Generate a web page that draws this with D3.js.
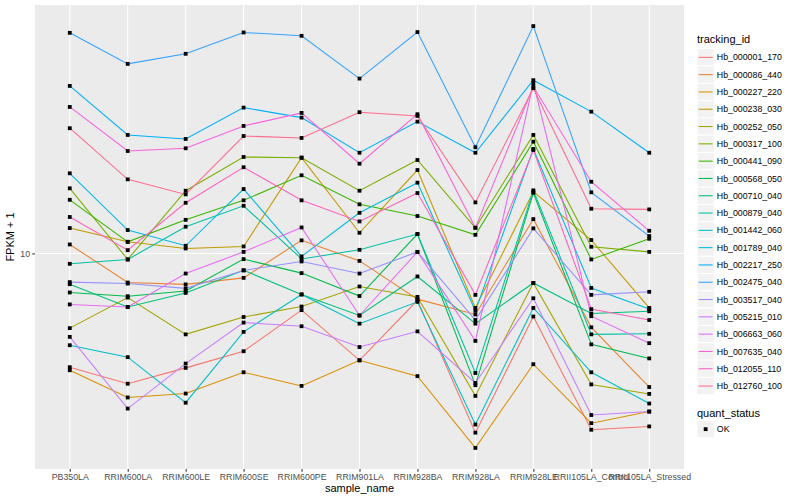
<!DOCTYPE html>
<html><head><meta charset="utf-8">
<script src="https://cdn.jsdelivr.net/npm/d3@7"></script>
<style>
body{margin:0;background:#fff;}
text{font-family:"Liberation Sans",Arial,Helvetica,sans-serif;}
</style></head>
<body><svg id="chart" width="800" height="500"></svg>
<script>
const categories = ["PB350LA","RRIM600LA","RRIM600LE","RRIM600SE","RRIM600PE","RRIM901LA","RRIM928BA","RRIM928LA","RRIM928LE","RRII105LA_Control","RRII105LA_Stressed"];
const seriesNames = ["Hb_000001_170","Hb_000086_440","Hb_000227_220","Hb_000238_030","Hb_000252_050","Hb_000317_100","Hb_000441_090","Hb_000568_050","Hb_000710_040","Hb_000879_040","Hb_001442_060","Hb_001789_040","Hb_002217_250","Hb_002475_040","Hb_003517_040","Hb_005215_010","Hb_006663_060","Hb_007635_040","Hb_012055_110","Hb_012760_100"];
const palette = ["#F8766D","#EA8331","#D89000","#C09B00","#A3A500","#7CAE00","#39B600","#00BB4E","#00BF7D","#00C1A3","#00BFC4","#00BAE0","#00B0F6","#35A2FF","#9590FF","#C77CFF","#E76BF3","#FA62DB","#FF62BC","#FF6C91"];
const yTickValues = [10];
const quantStatus = ["OK"];

const hb_000001_170 = [5.20,4.73,5.18,5.70,7.22,5.41,7.64,3.57,6.96,3.63,3.70];
const hb_000086_440 = [10.53,8.46,8.37,8.69,10.78,9.58,7.69,7.04,12.18,6.54,4.64];
const hb_000227_220 = [5.11,4.37,4.47,5.05,4.67,5.41,4.94,3.27,5.29,3.77,4.03];
const hb_000238_030 = [11.57,10.69,10.29,10.41,17.34,11.26,16.15,7.31,14.26,10.80,7.31];
const hb_000252_050 = [6.51,7.76,6.28,6.94,7.37,8.27,7.79,4.41,8.44,4.71,4.46];
const hb_000317_100 = [14.54,9.66,14.34,17.41,17.34,14.34,17.11,11.59,19.76,10.39,10.09];
const hb_000441_090 = [13.61,10.69,12.13,13.57,15.67,13.26,12.40,11.13,19.01,9.66,10.88];
const hb_000568_050 = [7.99,7.82,8.06,9.68,8.93,7.83,11.18,4.69,14.17,5.93,5.47];
const hb_000710_040 = [8.38,7.35,7.97,9.08,7.90,7.00,8.76,6.68,8.44,7.08,7.17];
const hb_000879_040 = [9.42,9.66,11.66,13.15,9.69,10.21,11.18,5.03,14.37,6.28,6.30];
const hb_001442_060 = [5.90,5.51,4.24,6.37,7.90,6.68,7.57,3.74,7.31,5.05,4.22];
const hb_001789_040 = [15.85,11.44,10.45,14.48,9.83,12.63,15.02,7.19,18.23,8.20,7.27];
const hb_002217_250 = [26.19,19.76,19.31,23.12,21.83,17.84,21.33,17.84,27.07,22.59,17.84];
const hb_002475_040 = [35.54,29.73,31.50,35.61,34.93,27.32,35.69,18.41,36.94,14.21,11.05];
const hb_003517_040 = [8.48,8.41,8.18,9.07,9.55,8.91,10.09,6.82,11.55,7.88,8.02];
const hb_005215_010 = [6.19,4.10,5.31,6.72,6.58,5.84,6.39,4.75,7.73,3.95,4.03];
const hb_006663_060 = [7.46,7.35,8.91,10.09,11.61,7.00,10.09,6.05,26.61,6.97,5.97];
const hb_007635_040 = [23.21,18.02,18.30,20.81,22.43,16.75,22.26,11.59,26.09,15.10,11.39];
const hb_012055_110 = [12.33,10.19,13.38,16.41,13.57,12.02,14.15,7.88,18.12,7.26,6.82];
const hb_012760_100 = [20.54,15.31,14.04,19.64,19.42,22.52,22.04,13.41,25.85,12.93,12.88];

const seriesValues = [hb_000001_170,hb_000086_440,hb_000227_220,hb_000238_030,hb_000252_050,hb_000317_100,hb_000441_090,hb_000568_050,hb_000710_040,hb_000879_040,hb_001442_060,hb_001789_040,hb_002217_250,hb_002475_040,hb_003517_040,hb_005215_010,hb_006663_060,hb_007635_040,hb_012055_110,hb_012760_100];

const series = seriesNames.map((n,i)=>({name:n,color:palette[i],values:seriesValues[i].map((v,j)=>({cat:categories[j],v}))}));

const svg = d3.select("#chart");
const panel = {left:35,right:684,top:5,bottom:469};

const x = d3.scalePoint().domain(categories).range([panel.left,panel.right]).padding(0.6);
const allVals = seriesValues.flat();
const lmin = Math.log10(d3.min(allVals)), lmax = Math.log10(d3.max(allVals));
const ex = (lmax-lmin)*0.05;
const y = d3.scaleLog().domain([Math.pow(10,lmin-ex),Math.pow(10,lmax+ex)]).range([panel.bottom,panel.top]);

svg.append("rect").attr("x",panel.left).attr("y",panel.top).attr("width",panel.right-panel.left).attr("height",panel.bottom-panel.top).attr("fill","#EBEBEB");

const g = svg.append("g");
g.selectAll(".vg").data(categories).join("line")
 .attr("x1",d=>x(d)).attr("x2",d=>x(d)).attr("y1",panel.top).attr("y2",panel.bottom)
 .attr("stroke","#fff").attr("stroke-width",1.07);
g.selectAll(".hg").data(yTickValues).join("line")
 .attr("x1",panel.left).attr("x2",panel.right).attr("y1",d=>y(d)).attr("y2",d=>y(d))
 .attr("stroke","#fff").attr("stroke-width",1.07);

const line = d3.line().x(d=>x(d.cat)).y(d=>y(d.v));
svg.append("g").selectAll("path").data(series).join("path")
 .attr("d",d=>line(d.values)).attr("fill","none").attr("stroke",d=>d.color).attr("stroke-width",1.07);

const pts = series.flatMap(s=>s.values);
svg.append("g").selectAll("rect").data(pts).join("rect")
 .attr("x",d=>x(d.cat)-1.9).attr("y",d=>y(d.v)-1.9).attr("width",3.8).attr("height",3.8).attr("fill","#000");

const xAxis = d3.axisBottom(x).tickSize(2.75).tickPadding(2.5);
const xa = svg.append("g").attr("transform",`translate(0,${panel.bottom})`).call(xAxis);
xa.select(".domain").remove();
xa.selectAll(".tick line").attr("stroke","#333").attr("stroke-width",1.07);
xa.selectAll(".tick text").attr("fill","#4D4D4D").style("font-size","8.8px");

const yAxis = d3.axisLeft(y).tickValues(yTickValues).tickFormat(d3.format("d")).tickSize(2.75).tickPadding(2.2);
const ya = svg.append("g").attr("transform",`translate(${panel.left},0)`).call(yAxis);
ya.select(".domain").remove();
ya.selectAll(".tick line").attr("stroke","#333").attr("stroke-width",1.07);
ya.selectAll(".tick text").attr("fill","#4D4D4D").style("font-size","8.8px");

svg.append("text").attr("x",(panel.left+panel.right)/2).attr("y",492).attr("text-anchor","middle").style("font-size","11px").attr("fill","#000").text("sample_name");
svg.append("text").attr("transform",`translate(14,${(panel.top+panel.bottom)/2}) rotate(-90)`).attr("text-anchor","middle").style("font-size","11px").attr("fill","#000").text("FPKM + 1");

const lg = svg.append("g");
const keyX = 697, keyW = 17.3, keyH = 17.3, key0 = 48.7;
lg.append("text").attr("x",keyX).attr("y",43).style("font-size","11px").text("tracking_id");
const items = lg.selectAll(".item").data(series).join("g").attr("transform",(d,i)=>`translate(${keyX},${key0+i*keyH})`);
items.append("rect").attr("width",keyW).attr("height",keyH).attr("fill","#F2F2F2").attr("stroke","#fff").attr("stroke-width",1);
items.append("line").attr("x1",1.7).attr("x2",keyW-1.7).attr("y1",keyH/2).attr("y2",keyH/2).attr("stroke",d=>d.color).attr("stroke-width",1.07);
items.append("text").attr("x",keyW+2.5).attr("y",keyH/2+3.1).style("font-size","8.8px").text(d=>d.name);

const qs0 = 416.5;
lg.append("text").attr("x",keyX).attr("y",qs0).style("font-size","11px").text("quant_status");
const qItems = lg.selectAll(".qitem").data(quantStatus).join("g").attr("transform",(d,i)=>`translate(${keyX},${qs0+4+i*keyH})`);
qItems.append("rect").attr("width",keyW).attr("height",keyH).attr("fill","#F2F2F2").attr("stroke","#fff");
qItems.append("rect").attr("x",keyW/2-1.9).attr("y",keyH/2-1.9).attr("width",3.8).attr("height",3.8).attr("fill","#000");
qItems.append("text").attr("x",keyW+2.5).attr("y",keyH/2+3.1).style("font-size","8.8px").text(d=>d);
</script></body></html>
